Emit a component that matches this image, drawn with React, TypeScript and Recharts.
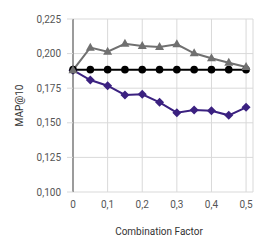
import React from 'react';
import { LineChart, Line, XAxis, YAxis, CartesianGrid } from 'recharts';

const factors = [0, 0.05, 0.1, 0.15, 0.2, 0.25, 0.3, 0.35, 0.4, 0.45, 0.5];
const grayValues = [0.188, 0.2043, 0.2014, 0.2071, 0.2055, 0.2048, 0.2067, 0.2002, 0.1966, 0.1934, 0.1903];
const blackValues = [0.1884, 0.1884, 0.1884, 0.1884, 0.1884, 0.1884, 0.1884, 0.1884, 0.1884, 0.1884, 0.1884];
const purpleValues = [0.188, 0.1809, 0.1768, 0.1701, 0.1706, 0.1648, 0.1573, 0.1592, 0.1587, 0.1554, 0.1612];
const xTicks = [0, 0.1, 0.2, 0.3, 0.4, 0.5];
const yTicks = [0.1, 0.125, 0.15, 0.175, 0.2, 0.225];

const data = factors.map((f, i) => ({
  f,
  gray: grayValues[i],
  black: blackValues[i],
  purple: purpleValues[i],
}));

const GRAY = '#707070';
const PURPLE = '#3b2180';
const TEXT = '#555555';
const FONT = 'Roboto, Arial, sans-serif';

const fmtX = (v: number) => (v === 0 ? '0' : v.toFixed(1).replace('.', ','));
const fmtY = (v: number) => v.toFixed(3).replace('.', ',');

const diamondDot = (p: any) => {
  const { cx, cy } = p;
  const h = 4.5;
  return (
    <path
      key={`d-${p.index}`}
      d={`M${cx},${cy - h}L${cx + h},${cy}L${cx},${cy + h}L${cx - h},${cy}Z`}
      fill={PURPLE}
    />
  );
};

const triangleDot = (p: any) => {
  const { cx, cy } = p;
  return (
    <path
      key={`t-${p.index}`}
      d={`M${cx},${cy - 5}L${cx + 4.5},${cy + 3}L${cx - 4.5},${cy + 3}Z`}
      fill={GRAY}
    />
  );
};

const circleDot = (p: any) => (
  <circle key={`c-${p.index}`} cx={p.cx} cy={p.cy} r={3.8} fill="#000000" />
);

export default function App() {
  return (
    <LineChart
      width={258}
      height={239}
      data={data}
      margin={{ top: 11, right: 13, bottom: 25, left: 0 }}
      style={{ fontFamily: FONT }}
    >
      <CartesianGrid stroke="#d9d9d9" strokeWidth={1} />
      <XAxis
        dataKey="f"
        type="number"
        domain={[0, 0.52]}
        ticks={xTicks}
        tickFormatter={fmtX}
        axisLine={false}
        tickLine={false}
        tickSize={6}
        tickMargin={3}
        tick={{ fontSize: 10, fill: TEXT, fontFamily: FONT }}
        height={30}
        label={(props: any) => {
          const vb = props.viewBox;
          return (
            <text
              x={vb.x + vb.width / 2 - 4}
              y={vb.y + 39}
              textAnchor="middle"
              dominantBaseline="central"
              fontSize={10}
              fill="#333"
              fontFamily={FONT}
            >
              Combination Factor
            </text>
          );
        }}
      />
      <YAxis
        type="number"
        domain={[0.1, 0.225]}
        ticks={yTicks}
        tickFormatter={fmtY}
        width={65}
        axisLine={{ stroke: '#808080', strokeWidth: 1.5 }}
        tickLine={{ stroke: '#d9d9d9' }}
        tickSize={6}
        tickMargin={6}
        tick={{ fontSize: 10, fill: TEXT, fontFamily: FONT }}
        label={{
          value: 'MAP@10',
          angle: -90,
          position: 'insideLeft',
          offset: 11,
          style: { textAnchor: 'middle', fontSize: 10, fill: '#333', fontFamily: FONT },
        }}
      />
      <Line
        dataKey="purple"
        stroke={PURPLE}
        strokeWidth={2}
        dot={diamondDot}
        isAnimationActive={false}
      />
      <Line
        dataKey="black"
        stroke="#000000"
        strokeWidth={2}
        dot={circleDot}
        isAnimationActive={false}
      />
      <Line
        dataKey="gray"
        stroke={GRAY}
        strokeWidth={2}
        dot={triangleDot}
        isAnimationActive={false}
      />
    </LineChart>
  );
}
